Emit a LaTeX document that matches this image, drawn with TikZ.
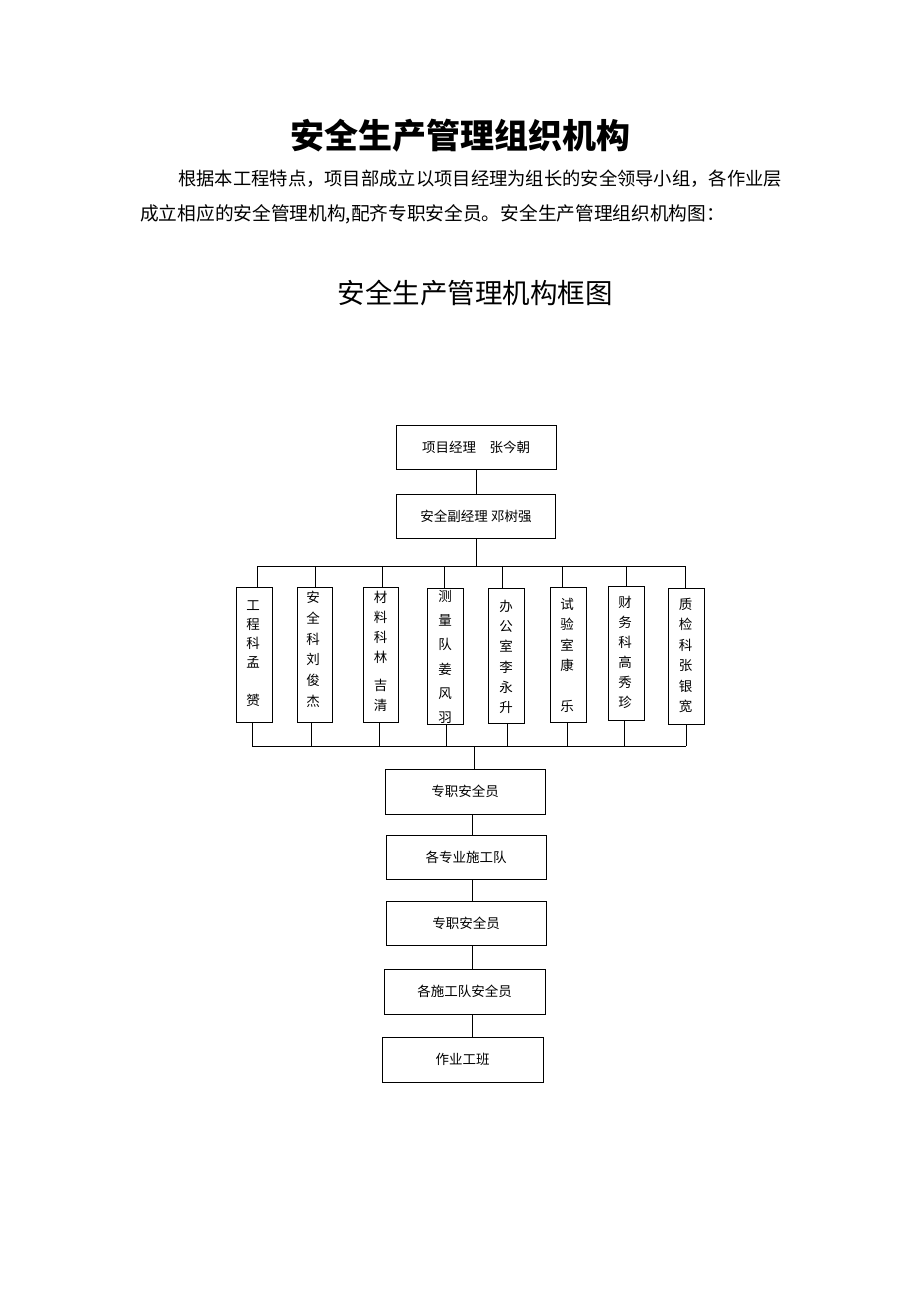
\documentclass[tikz,border=0pt]{standalone}
\usepackage{fontspec}
\setmainfont{Noto Sans CJK SC}
\begin{document}
\begin{tikzpicture}[x=1pt,y=-1pt,
  box/.style={draw=black,line width=1pt,inner sep=0pt,font=\fontsize{13.5}{16}\selectfont},
  dept/.style={draw=black,line width=1pt,inner sep=0pt,anchor=north west},
  vtext/.style={inner sep=0pt,anchor=north,align=center,font=\fontsize{13.5}{#1}\selectfont},
  vtext/.default=20,
  wire/.style={line width=1pt,draw=black},
  plain/.style={inner sep=0pt,text=black}]
\fill[white] (0,0) rectangle (920,1302);
\useasboundingbox (0,0) rectangle (920,1302);

% heading and paragraph
\node[plain,font=\fontsize{34}{40}\selectfont\bfseries] (title) at (460,136) {安全生产管理组织机构};
\node[plain,anchor=west,font=\fontsize{18.3}{22}\selectfont] (para1) at (178,179) {根据本工程特点，项目部成立以项目经理为组长的安全领导小组，各作业层};
\node[plain,anchor=west,font=\fontsize{18.7}{22}\selectfont] (para2) at (140,214) {成立相应的安全管理机构,配齐专职安全员。安全生产管理组织机构图：};
\node[plain,font=\fontsize{27.5}{32}\selectfont] (subtitle) at (475,293) {安全生产管理机构框图};

% top boxes
\node[box,minimum width=160pt,minimum height=44pt] (pm) at (476,447) {项目经理\hspace{1em}张今朝};
\node[box,minimum width=159pt,minimum height=44pt] (dpm) at (476,516) {安全副经理 邓树强};
\draw[wire] (pm.south) -- (dpm.north);

% top bus
\coordinate (tl) at (257,566);
\coordinate (tr) at (685,566);
\draw[wire] (tl) -- (tr);
\draw[wire] (dpm.south) -- (dpm.south |- tl);

% department boxes
\node[dept,minimum width=36pt,minimum height=135pt] (b1) at (236,587) {};
\node[dept,minimum width=35pt,minimum height=135pt] (b2) at (297,587) {};
\node[dept,minimum width=35pt,minimum height=135pt] (b3) at (363,587) {};
\node[dept,minimum width=36pt,minimum height=136pt] (b4) at (427,588) {};
\node[dept,minimum width=36pt,minimum height=135pt] (b5) at (488,588) {};
\node[dept,minimum width=36pt,minimum height=135pt] (b6) at (550,587) {};
\node[dept,minimum width=36pt,minimum height=134pt] (b7) at (608,586) {};
\node[dept,minimum width=36pt,minimum height=136pt] (b8) at (668,588) {};

\node[vtext=19] (t1) at (253,600) {工\\程\\科\\孟\\\mbox{}\\赟};
\node[vtext=20.8] (t2) at (313,591) {安\\全\\科\\刘\\俊\\杰};
\node[vtext=20] (t3) at (380.5,591) {材\\料\\科\\林\\[8pt]吉\\清};
\node[vtext=24.2] (t4) at (445,590) {测\\量\\队\\姜\\风\\羽};
\node[vtext=20.2] (t5) at (506,600) {办\\公\\室\\李\\永\\升};
\node[vtext=20.4] (t6) at (567,598) {试\\验\\室\\康\\\mbox{}\\乐};
\node[vtext=20] (t7) at (625,596) {财\\务\\科\\高\\秀\\珍};
\node[vtext=20.4] (t8) at (685.5,598) {质\\检\\科\\张\\银\\宽};

% drops from top bus
\foreach \x [count=\i] in {257,315,382,444,502,562,626,685} {
  \coordinate (d\i) at (\x,566);
  \draw[wire] (d\i) -- (d\i |- b\i.north);
}

% bottom bus
\coordinate (bl) at (252,746);
\coordinate (br) at (686,746);
\draw[wire] (bl) -- (br);
\foreach \x [count=\i] in {252,311,379,446,507,567,624,686} {
  \coordinate (u\i) at (\x,746);
  \draw[wire] (u\i |- b\i.south) -- (u\i);
}

% lower chain
\node[box,minimum width=160pt,minimum height=45pt] (sa) at (465,791.5) {专职安全员};
\node[box,minimum width=160pt,minimum height=44pt] (st) at (466,857) {各专业施工队};
\node[box,minimum width=160pt,minimum height=44pt] (sb) at (466,923) {专职安全员};
\node[box,minimum width=161pt,minimum height=45pt] (sc) at (464.5,991.5) {各施工队安全员};
\node[box,minimum width=161pt,minimum height=45pt] (wb) at (462.5,1059.5) {作业工班};

\coordinate (m) at (474,746);
\draw[wire] (m) -- (m |- sa.north);
\coordinate (m1) at (472,814);
\draw[wire] (m1 |- sa.south) -- (m1 |- st.north);
\draw[wire] (m1 |- st.south) -- (m1 |- sb.north);
\draw[wire] (m1 |- sb.south) -- (m1 |- sc.north);
\draw[wire] (m1 |- sc.south) -- (m1 |- wb.north);
\end{tikzpicture}
\end{document}
